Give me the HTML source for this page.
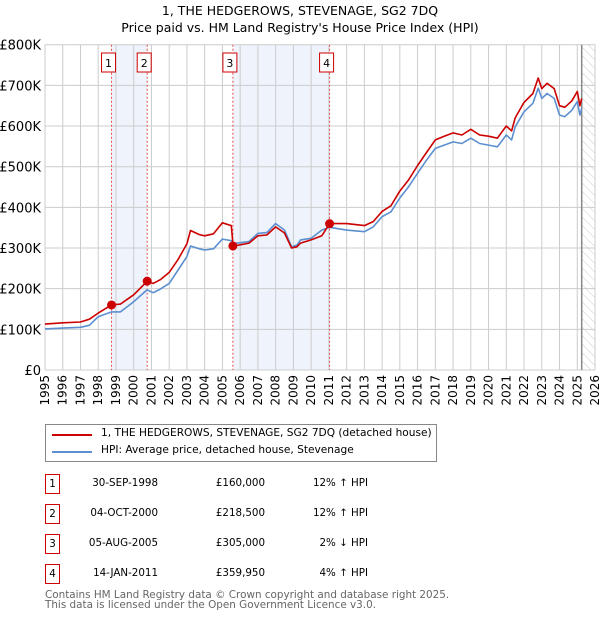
<!DOCTYPE html>
<html><head><meta charset="utf-8"><style>
body{margin:0;background:#fff;font-family:"DejaVu Sans","Liberation Sans",sans-serif;}
#wrap{position:relative;width:600px;height:620px;overflow:hidden}
.t{position:absolute;white-space:nowrap;color:#000}
</style></head><body><div id="wrap">
<svg id="c" width="600" height="620" style="position:absolute;left:0;top:0">
<defs><pattern id="hatch" width="6" height="6" patternUnits="userSpaceOnUse" patternTransform="rotate(-45)"><line x1="0" y1="0" x2="0" y2="6" stroke="#ccc" stroke-width="1"/></pattern></defs>
<text x="300" y="15" text-anchor="middle" font-size="12.5">1, THE HEDGEROWS, STEVENAGE, SG2 7DQ</text>
<text x="300" y="32" text-anchor="middle" font-size="12.5">Price paid vs. HM Land Registry's House Price Index (HPI)</text>
</svg>
<div class="t" style="left:45px;top:424px;width:390px;height:36px;border:1px solid #888">
 <div style="position:absolute;left:6px;top:9px;width:40px;height:2px;background:#cc0000"></div>
 <div class="t" style="left:55px;top:2px;font-size:10.6px">1, THE HEDGEROWS, STEVENAGE, SG2 7DQ (detached house)</div>
 <div style="position:absolute;left:6px;top:26px;width:40px;height:2px;background:#5b8fd0"></div>
 <div class="t" style="left:55px;top:19px;font-size:10.6px">HPI: Average price, detached house, Stevenage</div>
</div>
<div id="tbl"></div>
<div class="t" style="left:45px;top:590px;font-size:10.4px;color:#666;line-height:10px">Contains HM Land Registry data © Crown copyright and database right 2025.<br>This data is licensed under the Open Government Licence v3.0.</div>
</div>
<script>
const years=[1995,1996,1997,1997.5,1998,1998.75,1999.25,2000,2000.75,2001.1,2001.5,2002,2002.5,2003,2003.2,2003.7,2004,2004.5,2005,2005.5,2005.6,2006,2006.5,2007,2007.5,2008,2008.5,2008.9,2009.2,2009.4,2010,2010.6,2011.04,2012,2013,2013.5,2014,2014.5,2015,2015.5,2016,2016.5,2017,2017.5,2018,2018.5,2019,2019.5,2020,2020.5,2021,2021.3,2021.5,2022,2022.5,2022.8,2023,2023.3,2023.7,2024,2024.3,2024.7,2025,2025.15,2025.25];
const hpi=[101,103,105,110,131,143,143,168,197,190,199,213,246,279,305,298,295,298,322,318,311,313,316,336,338,360,344,303,307,320,324,344,351,344,340,352,377,389,423,451,484,516,545,553,561,557,570,557,553,549,578,566,598,635,656,693,668,680,668,627,623,639,660,627,643];
const paid=[113,116,118,125,140,160,162,185,218,213,222,240,272,310,343,333,330,335,362,355,305,308,312,330,332,352,337,300,303,312,320,330,360,360,355,365,390,404,440,468,503,535,566,575,583,578,592,578,575,570,600,588,620,658,680,718,692,705,692,650,646,662,685,650,668];
const saleYears=[1998.75,2000.76,2005.59,2011.04];
const salePrices=[160,218.5,305,359.95];
const saleDates=["30-SEP-1998","04-OCT-2000","05-AUG-2005","14-JAN-2011"];
const salePriceLabels=["£160,000","£218,500","£305,000","£359,950"];
const saleHpi=["12% ↑ HPI","12% ↑ HPI","2% ↓ HPI","4% ↑ HPI"];
const yTicks=[0,100,200,300,400,500,600,700,800];
const yLabels=["£0","£100K","£200K","£300K","£400K","£500K","£600K","£700K","£800K"];
const xTicks=[];for(let y=1995;y<=2026;y++)xTicks.push(y);
const X0=45,X1=595,Y0=370,Y1=44.7;
const xs=y=>X0+(y-1995)/(2026-1995)*(X1-X0);
const ys=v=>Y0-v/800*(Y0-Y1);
const svg=document.getElementById('c');const NS='http://www.w3.org/2000/svg';
function mk(t,a,p){const e=document.createElementNS(NS,t);for(const k in a)e.setAttribute(k,a[k]);(p||svg).appendChild(e);return e;}
let e;
e=mk('rect',{x:xs(saleYears[0]),y:Y1,width:xs(saleYears[1])-xs(saleYears[0]),height:Y0-Y1,fill:'#eef3fc'});


e=mk('rect',{x:xs(saleYears[2]),y:Y1,width:xs(saleYears[3])-xs(saleYears[2]),height:Y0-Y1,fill:'#eef3fc'});


const lastY=years[years.length-1];
e=mk('rect',{x:xs(lastY),y:Y1,width:X1-xs(lastY),height:Y0-Y1,fill:'url(#hatch)'});


xTicks.forEach(y=>{const g=mk('line',{x1:xs(y),x2:xs(y),y1:Y1,y2:Y0,stroke:'#ccc'});


const t=mk('text',{x:0,y:0,'font-size':12,'text-anchor':'end',transform:`translate(${xs(y)+4},${Y0+5}) rotate(-90)`});t.textContent=y;

});
yTicks.forEach((v,i)=>{const g=mk('line',{x1:X0,x2:X1,y1:ys(v),y2:ys(v),stroke:'#ccc'});


const t=mk('text',{x:X0-4,y:ys(v)+5,'font-size':13,'text-anchor':'end'});t.textContent=yLabels[i];

});
e=mk('line',{x1:xs(lastY),x2:xs(lastY),y1:Y1,y2:Y0,stroke:'#888','stroke-width':1.5});


saleYears.forEach((y,i)=>{const l=mk('line',{x1:xs(y),x2:xs(y),y1:Y1,y2:Y0,stroke:'#e05050','stroke-dasharray':'2,2'});


const bx=xs(y)-10;
const r=mk('rect',{x:bx,y:53,width:14,height:19,fill:'#fff',stroke:'#cc0000'});


const t=mk('text',{x:bx+7,y:67,'font-size':11,'text-anchor':'middle'});t.textContent=i+1;

});
function path(arr,col,name){const d=arr.map((v,i)=>(i?'L':'M')+xs(years[i]).toFixed(1)+','+ys(v).toFixed(1)).join('');
const p=mk('path',{d:d,fill:'none',stroke:col,'stroke-width':1.6,'stroke-linejoin':'round'});

}
path(hpi,'#5b8fd0','hpi-line');
path(paid,'#cc0000','price-paid-line');
saleYears.forEach((y,i)=>{const c=mk('circle',{cx:xs(y),cy:ys(salePrices[i]),r:4.5,fill:'#cc0000'});

});
const tb=document.getElementById('tbl');
saleDates.forEach((d,i)=>{const top=474+i*30;
const row=document.createElement('div');row.className='t';row.style.cssText=`left:0;top:${top}px;width:600px;height:22px;font-size:10.3px`;


row.innerHTML=`<div class="t" style="left:45px;top:0;width:13px;height:18px;border:1px solid #cc0000;text-align:center;line-height:18px">${i+1}</div>
<div class="t" style="right:${600-158}px;top:3px">${d}</div>
<div class="t" style="right:${600-265}px;top:3px">${salePriceLabels[i]}</div>
<div class="t" style="right:${600-368}px;top:3px">${saleHpi[i]}</div>`;
tb.appendChild(row);});
</script></body></html>
